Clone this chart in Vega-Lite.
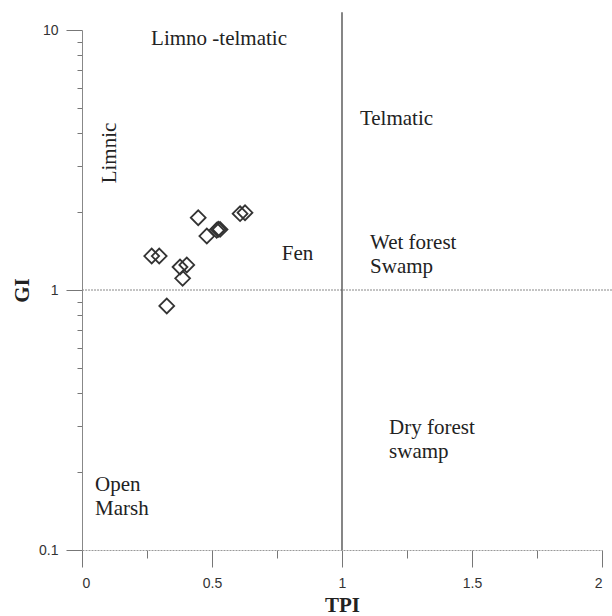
{
  "$schema": "https://vega.github.io/schema/vega-lite/v6.json",
  "width": 520,
  "height": 520,
  "autosize": {"type": "none"},
  "padding": {"left": 82, "top": 30, "right": 10, "bottom": 66},
  "background": "white",
  "config": {
    "view": {"stroke": null},
    "axis": {
      "grid": false,
      "labelFont": "Liberation Sans",
      "labelFontSize": 14,
      "labelColor": "#333",
      "titleFont": "Liberation Serif",
      "titleFontSize": 21,
      "titleFontWeight": "bold",
      "titleColor": "#222",
      "tickColor": "#777",
      "tickWidth": 1
    },
    "text": {"font": "Liberation Serif", "fontSize": 21, "color": "#222", "lineHeight": 24}
  },
  "datasets": {
    "samples": [
      {"TPI": 0.447, "GI": 1.897},
      {"TPI": 0.480, "GI": 1.613},
      {"TPI": 0.518, "GI": 1.697},
      {"TPI": 0.524, "GI": 1.712},
      {"TPI": 0.531, "GI": 1.710},
      {"TPI": 0.608, "GI": 1.966},
      {"TPI": 0.627, "GI": 1.983},
      {"TPI": 0.268, "GI": 1.351},
      {"TPI": 0.297, "GI": 1.351},
      {"TPI": 0.377, "GI": 1.226},
      {"TPI": 0.403, "GI": 1.248},
      {"TPI": 0.387, "GI": 1.109},
      {"TPI": 0.326, "GI": 0.868}
    ],
    "centerLabels": [
      {"TPI": 0.527, "GI": 9.23, "label": "Limno -telmatic"},
      {"TPI": 0.829, "GI": 1.375, "label": "Fen"}
    ],
    "leftLabels": [
      {"TPI": 1.069, "GI": 4.55, "label": "Telmatic"},
      {"TPI": 1.108, "GI": 1.516, "label": "Wet forest\nSwamp"},
      {"TPI": 1.181, "GI": 0.2945, "label": "Dry forest\nswamp"},
      {"TPI": 0.05, "GI": 0.1778, "label": "Open\nMarsh"}
    ],
    "rotLabels": [
      {"TPI": 0.108, "GI": 3.365, "label": "Limnic"}
    ],
    "vline": [{"TPI": 1, "GI": 11.7, "GI2": 0.1}],
    "hline": [{"TPI": 0, "TPI2": 2.04, "GI": 1}]
  },
  "layer": [
    {
      "data": {"name": "hline"},
      "mark": {"type": "rule", "color": "#888", "strokeWidth": 1, "strokeDash": [2, 1], "clip": false},
      "encoding": {
        "x": {"field": "TPI", "type": "quantitative", "scale": {"domain": [0, 2], "nice": false, "zero": false},
          "axis": {
            "title": "TPI",
            "values": [0, 0.25, 0.5, 0.75, 1, 1.25, 1.5, 1.75, 2],
            "labelExpr": "datum.value % 0.5 == 0 ? toString(datum.value) : ''",
            "tickSize": {"condition": {"test": "datum.value % 0.5 == 0", "value": 17}, "value": 8},
            "domainColor": "#999",
            "domainDash": [2, 1],
            "labelPadding": 9,
            "titlePadding": 4
          }
        },
        "x2": {"field": "TPI2"},
        "y": {"field": "GI", "type": "quantitative", "scale": {"type": "log", "domain": [0.1, 10], "nice": false},
          "axis": {
            "title": "GI",
            "values": [0.1, 0.2, 0.3, 0.4, 0.5, 0.6, 0.7, 0.8, 0.9, 1, 2, 3, 4, 5, 6, 7, 8, 9, 10],
            "labelExpr": "(datum.value == 0.1 || datum.value == 1 || datum.value == 10) ? toString(datum.value) : ''",
            "tickSize": {"condition": {"test": "datum.value == 0.1 || datum.value == 1 || datum.value == 10", "value": 16}, "value": 5},
            "domainColor": "#888",
            "labelPadding": 8,
            "titlePadding": 6
          }
        }
      }
    },
    {
      "data": {"name": "vline"},
      "mark": {"type": "rule", "color": "#444", "strokeWidth": 1.3, "clip": false},
      "encoding": {
        "x": {"field": "TPI", "type": "quantitative"},
        "y": {"field": "GI", "type": "quantitative"},
        "y2": {"field": "GI2"}
      }
    },
    {
      "data": {"name": "samples"},
      "mark": {"type": "point", "shape": "diamond", "filled": false, "size": 220, "stroke": "#333", "strokeWidth": 1.8, "opacity": 1},
      "encoding": {
        "x": {"field": "TPI", "type": "quantitative"},
        "y": {"field": "GI", "type": "quantitative"}
      }
    },
    {
      "data": {"name": "centerLabels"},
      "mark": {"type": "text", "align": "center", "baseline": "middle", "lineBreak": "\n"},
      "encoding": {
        "x": {"field": "TPI", "type": "quantitative"},
        "y": {"field": "GI", "type": "quantitative"},
        "text": {"field": "label"}
      }
    },
    {
      "data": {"name": "leftLabels"},
      "mark": {"type": "text", "align": "left", "baseline": "middle", "lineBreak": "\n"},
      "encoding": {
        "x": {"field": "TPI", "type": "quantitative"},
        "y": {"field": "GI", "type": "quantitative"},
        "text": {"field": "label"}
      }
    },
    {
      "data": {"name": "rotLabels"},
      "mark": {"type": "text", "align": "center", "baseline": "middle", "angle": 270},
      "encoding": {
        "x": {"field": "TPI", "type": "quantitative"},
        "y": {"field": "GI", "type": "quantitative"},
        "text": {"field": "label"}
      }
    }
  ]
}
